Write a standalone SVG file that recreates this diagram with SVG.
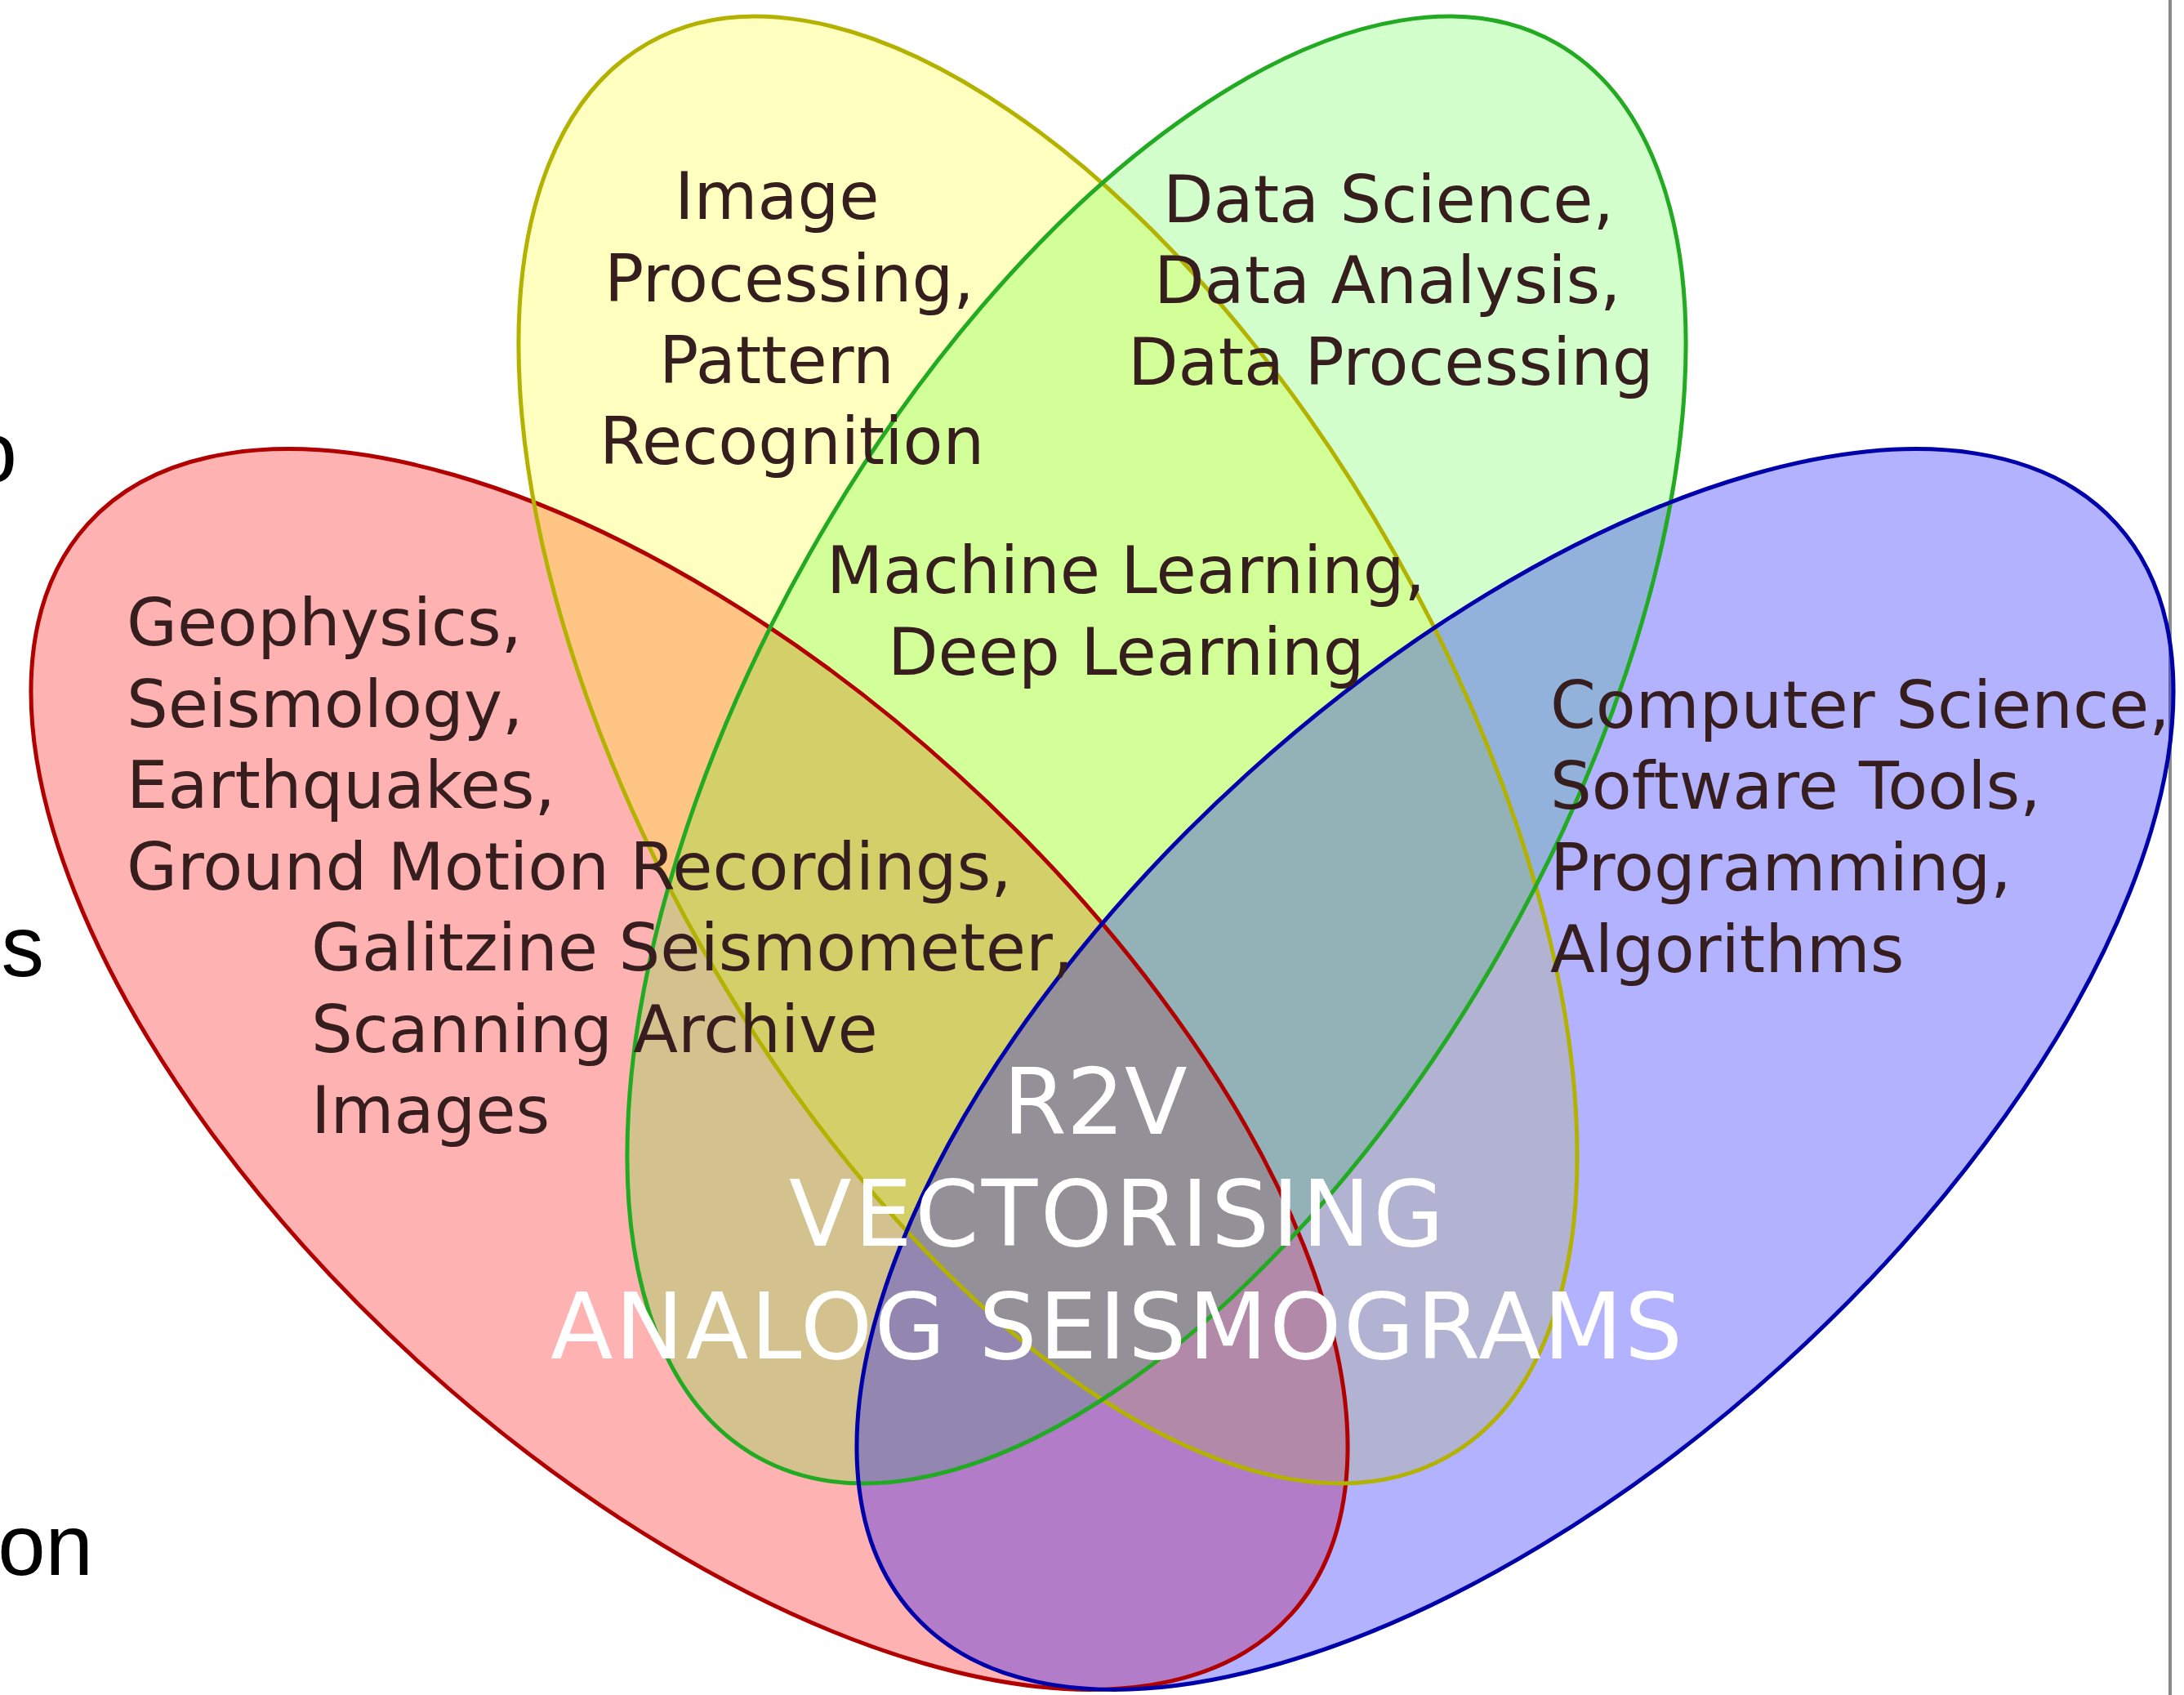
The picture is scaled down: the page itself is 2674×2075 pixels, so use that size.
<svg xmlns="http://www.w3.org/2000/svg" xmlns:xlink="http://www.w3.org/1999/xlink" width="2674" height="2075" viewBox="0 0 2674 2075">
  <style>
    .outline { fill: none; stroke-width: 5; }
    .lbl { font-family: "DejaVu Sans", Verdana, sans-serif; font-size: 80px; fill: #361e1e; }
    .core { font-family: "DejaVu Sans", Verdana, sans-serif; font-size: 112px; fill: #ffffff; }
    .edge { font-family: "Liberation Sans", Arial, sans-serif; font-size: 105px; fill: #000000; text-anchor: end; }
  </style>

  <defs>
    <!-- one ellipse shape per set; filled first, outlined afterwards -->
    <ellipse id="shape-geophysics" cx="844" cy="1309" rx="994" ry="488" transform="rotate(42.2 844 1309)"/>
    <ellipse id="shape-image" cx="1283" cy="918" rx="994" ry="488" transform="rotate(60.5 1283 918)"/>
    <ellipse id="shape-data" cx="1416" cy="918" rx="994" ry="488" transform="rotate(-60.5 1416 918)"/>
    <ellipse id="shape-computing" cx="1855" cy="1309" rx="994" ry="488" transform="rotate(-42.2 1855 1309)"/>
  </defs>

  <rect width="2674" height="2075" fill="#ffffff"/>

  <!-- cut-off words at the left margin -->
  <g id="margin-text">
    <text class="edge" x="21" y="590">o</text>
    <text class="edge" x="54" y="1195">s</text>
    <text class="edge" x="114" y="1928">on</text>
  </g>

  <!-- right page rule -->
  <line id="page-rule" x1="2657" y1="0" x2="2657" y2="2075" stroke="#8a8a8a" stroke-width="4"/>

  <!-- translucent set fills -->
  <g id="set-geophysics"><use xlink:href="#shape-geophysics" fill="#ff0000" fill-opacity="0.3"/></g>
  <g id="set-image"><use xlink:href="#shape-image" fill="#ffff00" fill-opacity="0.25"/></g>
  <g id="set-data"><use xlink:href="#shape-data" fill="#22ff00" fill-opacity="0.2"/></g>
  <g id="set-computing"><use xlink:href="#shape-computing" fill="#0000ff" fill-opacity="0.3"/></g>

  <!-- set outlines on top of all fills -->
  <g id="set-outlines">
    <use xlink:href="#shape-geophysics" class="outline" stroke="#b00000"/>
    <use xlink:href="#shape-image" class="outline" stroke="#b4b200" stroke-width="4"/>
    <use xlink:href="#shape-data" class="outline" stroke="#22aa22" stroke-width="4"/>
    <use xlink:href="#shape-computing" class="outline" stroke="#0000aa"/>
  </g>

  <!-- set labels -->
  <g id="label-geophysics">
    <text class="lbl">
      <tspan x="155" y="790">Geophysics,</tspan>
      <tspan x="155" y="890">Seismology,</tspan>
      <tspan x="155" y="989">Earthquakes,</tspan>
      <tspan x="155" y="1089">Ground Motion Recordings,</tspan>
      <tspan x="381" y="1188">Galitzine Seismometer,</tspan>
      <tspan x="381" y="1288">Scanning Archive</tspan>
      <tspan x="381" y="1387">Images</tspan>
    </text>
  </g>

  <g id="label-image">
    <text class="lbl">
      <tspan x="826" y="268">Image</tspan>
      <tspan x="740" y="369">Processing,</tspan>
      <tspan x="807" y="469">Pattern</tspan>
      <tspan x="734" y="568">Recognition</tspan>
    </text>
  </g>

  <g id="label-data">
    <text class="lbl">
      <tspan x="1424" y="272">Data Science,</tspan>
      <tspan x="1413" y="371">Data Analysis,</tspan>
      <tspan x="1381" y="471">Data Processing</tspan>
    </text>
  </g>

  <g id="label-learning">
    <text class="lbl">
      <tspan x="1012" y="726">Machine Learning,</tspan>
      <tspan x="1087" y="826">Deep Learning</tspan>
    </text>
  </g>

  <g id="label-computing">
    <text class="lbl">
      <tspan x="1898" y="891">Computer Science,</tspan>
      <tspan x="1898" y="990">Software Tools,</tspan>
      <tspan x="1898" y="1090">Programming,</tspan>
      <tspan x="1898" y="1190">Algorithms</tspan>
    </text>
  </g>

  <!-- centre: intersection of all four sets -->
  <g id="label-core">
    <text class="core">
      <tspan x="1228" y="1388">R2V</tspan>
      <tspan x="966" y="1525" textLength="802" lengthAdjust="spacing">VECTORISING</tspan>
      <tspan x="674" y="1663" textLength="1386" lengthAdjust="spacing">ANALOG SEISMOGRAMS</tspan>
    </text>
  </g>
</svg>
